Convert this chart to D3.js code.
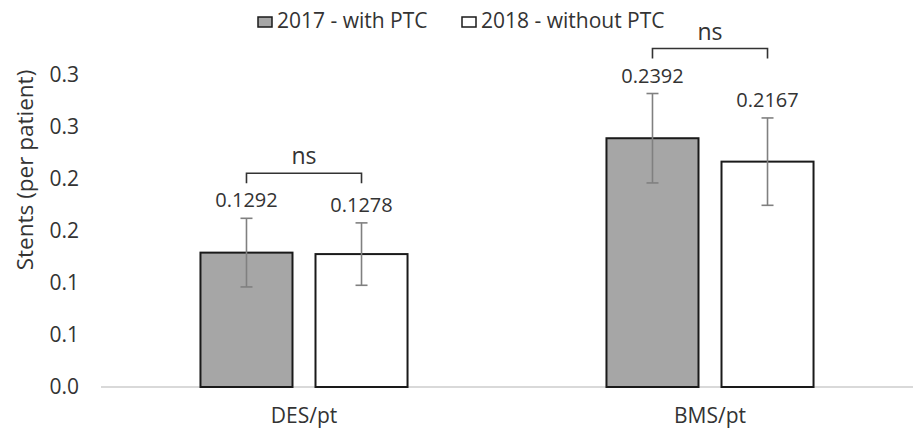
<!DOCTYPE html>
<html>
<head>
<meta charset="utf-8">
<script src="https://cdn.jsdelivr.net/npm/d3@7"></script>
<style>
  body { margin: 0; background: #fff; }
  text { font-family: "Open Sans", sans-serif; fill: #333; }
</style>
</head>
<body>
<div id="chart"></div>
<script>
// data
const categories = ['DES/pt', 'BMS/pt'];
const seriesNames = ['2017 - with PTC', '2018 - without PTC'];
const values2017 = [0.1292, 0.2392];
const values2018 = [0.1278, 0.2167];
const errors2017 = [0.033, 0.043];
const errors2018 = [0.030, 0.042];
const labels2017 = ['0.1292', '0.2392'];
const labels2018 = ['0.1278', '0.2167'];
const signif = ['ns', 'ns'];
const yTicks = [0, 0.05, 0.10, 0.15, 0.20, 0.25, 0.30];
const yTickLabels = ['0.0', '0.1', '0.1', '0.2', '0.2', '0.3', '0.3'];

const width = 913, height = 432;
const margin = {top: 75, right: 0, bottom: 45, left: 101};
const colors = ['#a6a6a6', '#ffffff'];

const svg = d3.select('#chart').append('svg')
  .attr('width', width)
  .attr('height', height);

const y = d3.scaleLinear().domain([0, 0.3]).range([height - margin.bottom, margin.top]);
const x0 = d3.scaleBand().domain(categories)
  .range([margin.left, width - margin.right])
  .paddingInner(0.49).paddingOuter(0.245);
const x1 = d3.scaleBand().domain(seriesNames)
  .range([0, x0.bandwidth()])
  .paddingInner(0.2);

// rows built from the arrays
const rows = [];
categories.forEach((c, i) => {
  rows.push({cat: c, s: seriesNames[0], v: values2017[i], e: errors2017[i], lab: labels2017[i], k: 0});
  rows.push({cat: c, s: seriesNames[1], v: values2018[i], e: errors2018[i], lab: labels2018[i], k: 1});
});

// y axis (labels only)
svg.append('g')
  .attr('transform', `translate(${margin.left - 22},0)`)
  .call(d3.axisLeft(y).tickValues(yTicks).tickFormat((d, i) => yTickLabels[i]).tickSize(0))
  .call(g => g.select('.domain').remove())
  .call(g => g.selectAll('.tick text')
              .attr('font-size', 21)
              .attr('font-family', '"Open Sans", sans-serif')
              .attr('fill', '#333')
              .attr('x', 0));

// baseline
svg.append('line')
  .attr('x1', margin.left).attr('x2', width - margin.right)
  .attr('y1', y(0)).attr('y2', y(0))
  .attr('stroke', '#d9d9d9').attr('stroke-width', 2);

// x axis labels
svg.append('g')
  .attr('transform', `translate(0,${y(0)})`)
  .call(d3.axisBottom(x0).tickSize(0))
  .call(g => g.select('.domain').remove())
  .call(g => g.selectAll('.tick text')
              .attr('font-size', 21)
              .attr('font-family', '"Open Sans", sans-serif')
              .attr('fill', '#333')
              .attr('dy', 0)
              .attr('y', 36));

// y title
svg.append('text')
  .attr('transform', `translate(33,170) rotate(-90)`)
  .attr('text-anchor', 'middle')
  .attr('font-size', 22.5)
  .text('Stents (per patient)');

// bars
const bx = d => x0(d.cat) + x1(d.s);
svg.append('g').selectAll('rect').data(rows).join('rect')
  .attr('x', bx)
  .attr('y', d => y(d.v))
  .attr('width', x1.bandwidth())
  .attr('height', d => y(0) - y(d.v))
  .attr('fill', d => colors[d.k])
  .attr('stroke', '#1a1a1a')
  .attr('stroke-width', 2);

// error bars
const cap = 6;
const eg = svg.append('g').attr('stroke', '#808080').attr('stroke-width', 1.6);
rows.forEach(d => {
  const cx = bx(d) + x1.bandwidth() / 2;
  eg.append('line').attr('x1', cx).attr('x2', cx).attr('y1', y(d.v + d.e)).attr('y2', y(d.v - d.e));
  eg.append('line').attr('x1', cx - cap).attr('x2', cx + cap).attr('y1', y(d.v + d.e)).attr('y2', y(d.v + d.e));
  eg.append('line').attr('x1', cx - cap).attr('x2', cx + cap).attr('y1', y(d.v - d.e)).attr('y2', y(d.v - d.e));
});

// value labels
svg.append('g').selectAll('text').data(rows).join('text')
  .attr('x', d => bx(d) + x1.bandwidth() / 2)
  .attr('y', d => y(d.v + d.e) - 11)
  .attr('text-anchor', 'middle')
  .attr('font-size', 20)
  .text(d => d.lab);

// significance brackets
categories.forEach((c, i) => {
  const top = d3.min([y(values2017[i] + errors2017[i]), y(values2018[i] + errors2018[i])]);
  const by = top - 45;
  const xa = x0(c) + x1(seriesNames[0]) + x1.bandwidth() / 2;
  const xb = x0(c) + x1(seriesNames[1]) + x1.bandwidth() / 2;
  svg.append('path')
    .attr('d', `M${xa},${by + 10}V${by}H${xb}V${by + 10}`)
    .attr('fill', 'none')
    .attr('stroke', '#333')
    .attr('stroke-width', 1.6);
  svg.append('text')
    .attr('x', (xa + xb) / 2)
    .attr('y', by - 9)
    .attr('text-anchor', 'middle')
    .attr('font-size', 23)
    .text(signif[i]);
});

// legend
const legX = [258, 462];
const lg = svg.append('g');
seriesNames.forEach((s, i) => {
  lg.append('rect')
    .attr('x', legX[i]).attr('y', 17)
    .attr('width', 14).attr('height', 10)
    .attr('fill', colors[i])
    .attr('stroke', '#1a1a1a').attr('stroke-width', 1.5);
  lg.append('text')
    .attr('x', legX[i] + 19).attr('y', 28)
    .attr('font-size', 21)
    .text(s);
});
</script>
</body>
</html>
